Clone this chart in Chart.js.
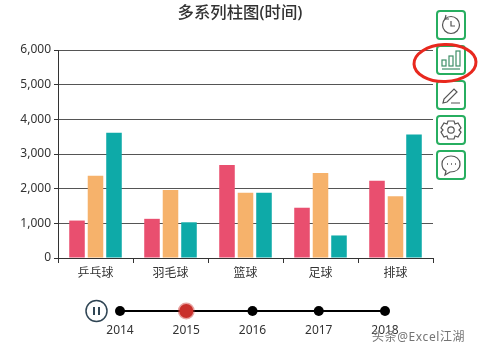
<!DOCTYPE html>
<html lang="zh">
<head>
  <meta charset="UTF-8" />
  <title>多系列柱图(时间)</title>
  <script src="https://cdn.jsdelivr.net/npm/chart.js"></script>
  <style>
    html, body { margin: 0; padding: 0; background: #fff; overflow: hidden; }
    #wrap { position: relative; width: 478px; height: 352px; font-family: "Noto Sans", "Noto Sans CJK SC", sans-serif; }
    #wrap canvas { position: absolute; left: 0; }
    #title { position: absolute; left: 0; top: 1px; width: 480px; text-align: center; font-size: 16.4px; font-weight: 500; line-height: 22px; color: #333; }
    #mark { position: absolute; left: 372px; top: 327px; font-size: 12px; line-height: 20px; letter-spacing: .6px; color: rgba(90,90,90,.85); text-shadow: 0 0 2px #fff; white-space: nowrap; }
    #overlay { position: absolute; left: 0; top: 0; }
  </style>
</head>
<body>
  <div id="wrap">
    <canvas id="barChart" style="top:0" width="478" height="290"></canvas>
    <canvas id="timeChart" style="top:290px" width="478" height="62"></canvas>
    <div id="title">多系列柱图(时间)</div>
    <svg id="overlay" width="478" height="352" fill="none">
      <!-- pause button -->
      <circle cx="96.5" cy="311" r="10.5" stroke="#2f4554" stroke-width="1.5"/>
      <path d="M94 307v8M99 307v8" stroke="#2f4554" stroke-width="2"/>
      <!-- toolbox -->
      <g stroke="#27ae60" stroke-width="2" fill="#fff">
        <rect x="437" y="11" width="28" height="28" rx="3"/>
        <rect x="437" y="46" width="28" height="28" rx="3"/>
        <rect x="437" y="81" width="28" height="28" rx="3"/>
        <rect x="437" y="116" width="28" height="28" rx="3"/>
        <rect x="437" y="151" width="28" height="28" rx="3"/>
      </g>
      <g stroke="#555" stroke-width="1.2">
        <circle cx="451" cy="25" r="8.5"/>
        <path d="M446 15l-1 4 4 0M451 21v5h4"/>
      </g>
      <g stroke="#3f8f68" stroke-width="1.2">
        <rect x="442" y="60" width="4" height="6"/>
        <rect x="449" y="56" width="4" height="10"/>
        <rect x="456" y="51" width="4" height="15"/>
        <path d="M442 69h18"/>
      </g>
      <g stroke="#555" stroke-width="1.2">
        <path d="M443 103l1-4 10-10 3 3-10 10zM451 103h9"/>
      </g>
      <g stroke="#555" stroke-width="1.2">
        <path d="M448 121h6l1 3 3-1 3 5-2 2 2 2-3 5-3-1-1 3h-6l-1-3-3 1-3-5 2-2-2-2 3-5 3 1z"/>
        <circle cx="451" cy="130" r="3.2"/>
      </g>
      <g stroke="#555" stroke-width="1.2">
        <path d="M451 156c-5 0-9 3-9 8 0 3 2 6 4 7l-1 4 5-3c6 0 10-3 10-8s-4-8-9-8z"/>
        <path d="M447 164h1M451 164h1M455 164h1" stroke-width="1.6"/>
      </g>
      <!-- hand drawn red ring -->
      <ellipse cx="445" cy="63" rx="31" ry="18.5" stroke="#e8281e" stroke-width="3" transform="rotate(-2 445 63)"/>
    </svg>
    <div id="mark">头条@Excel江湖</div>
  </div>

  <script>
    const categories = ['乒乓球', '羽毛球', '篮球', '足球', '排球'];
    const seriesA = [1080, 1130, 2680, 1450, 2230];
    const seriesB = [2370, 1960, 1880, 2450, 1780];
    const seriesC = [3610, 1030, 1880, 650, 3560];
    const yearLabels = ['2014', '2015', '2016', '2017', '2018'];
    const yearLine = [1, 1, 1, 1, 1];
    const currentYear = 1;

    const fontFamily = '"Noto Sans", "Noto Sans CJK SC", sans-serif';
    Chart.defaults.font.family = fontFamily;
    Chart.defaults.font.size = 12;
    Chart.defaults.color = '#333';

    function bar(data, color) {
      return { data: data, backgroundColor: color, categoryPercentage: 0.74, barPercentage: 0.84 };
    }

    new Chart(document.getElementById('barChart'), {
      type: 'bar',
      data: {
        labels: categories,
        datasets: [bar(seriesA, '#e94f6f'), bar(seriesB, '#f6b26b'), bar(seriesC, '#0eaaa8')]
      },
      options: {
        responsive: false,
        animation: false,
        layout: { padding: { top: 50, right: 45, bottom: 2, left: 0 } },
        plugins: { legend: { display: false }, tooltip: { enabled: false } },
        scales: {
          x: {
            afterFit: s => { s.height = 30; },
            border: { color: '#333', width: 1 },
            grid: { offset: true, drawOnChartArea: false, drawTicks: true, tickLength: 5, tickColor: '#333' },
            ticks: { padding: 3, maxRotation: 0, color: '#333' }
          },
          y: {
            min: 0,
            max: 6000,
            afterFit: s => { s.width = 58; },
            border: { color: '#333', width: 1 },
            grid: { color: '#555', tickColor: '#333', tickLength: 4 },
            ticks: { stepSize: 1000, padding: 3, color: '#333', callback: v => v.toLocaleString('en-US') }
          }
        }
      }
    });

    new Chart(document.getElementById('timeChart'), {
      type: 'line',
      data: {
        labels: yearLabels,
        datasets: [{
          data: yearLine,
          borderColor: '#000',
          borderWidth: 2,
          pointRadius: yearLabels.map((y, i) => i === currentYear ? 7 : 5),
          pointBackgroundColor: yearLabels.map((y, i) => i === currentYear ? '#c9302c' : '#000'),
          pointBorderColor: yearLabels.map((y, i) => i === currentYear ? 'rgba(201,48,44,.45)' : '#000'),
          pointBorderWidth: yearLabels.map((y, i) => i === currentYear ? 3 : 0),
          clip: false
        }]
      },
      options: {
        responsive: false,
        animation: false,
        layout: { padding: { left: 120, right: 93, top: 21, bottom: 0 } },
        plugins: { legend: { display: false }, tooltip: { enabled: false } },
        scales: {
          x: {
            offset: false,
            afterFit: s => { s.height = 41; },
            border: { display: false },
            grid: { display: false },
            ticks: { padding: 4, maxRotation: 0, autoSkip: false, color: '#333' }
          },
          y: { display: false, min: 0, max: 1, afterFit: s => { s.width = 0; } }
        }
      }
    });
  </script>
</body>
</html>
